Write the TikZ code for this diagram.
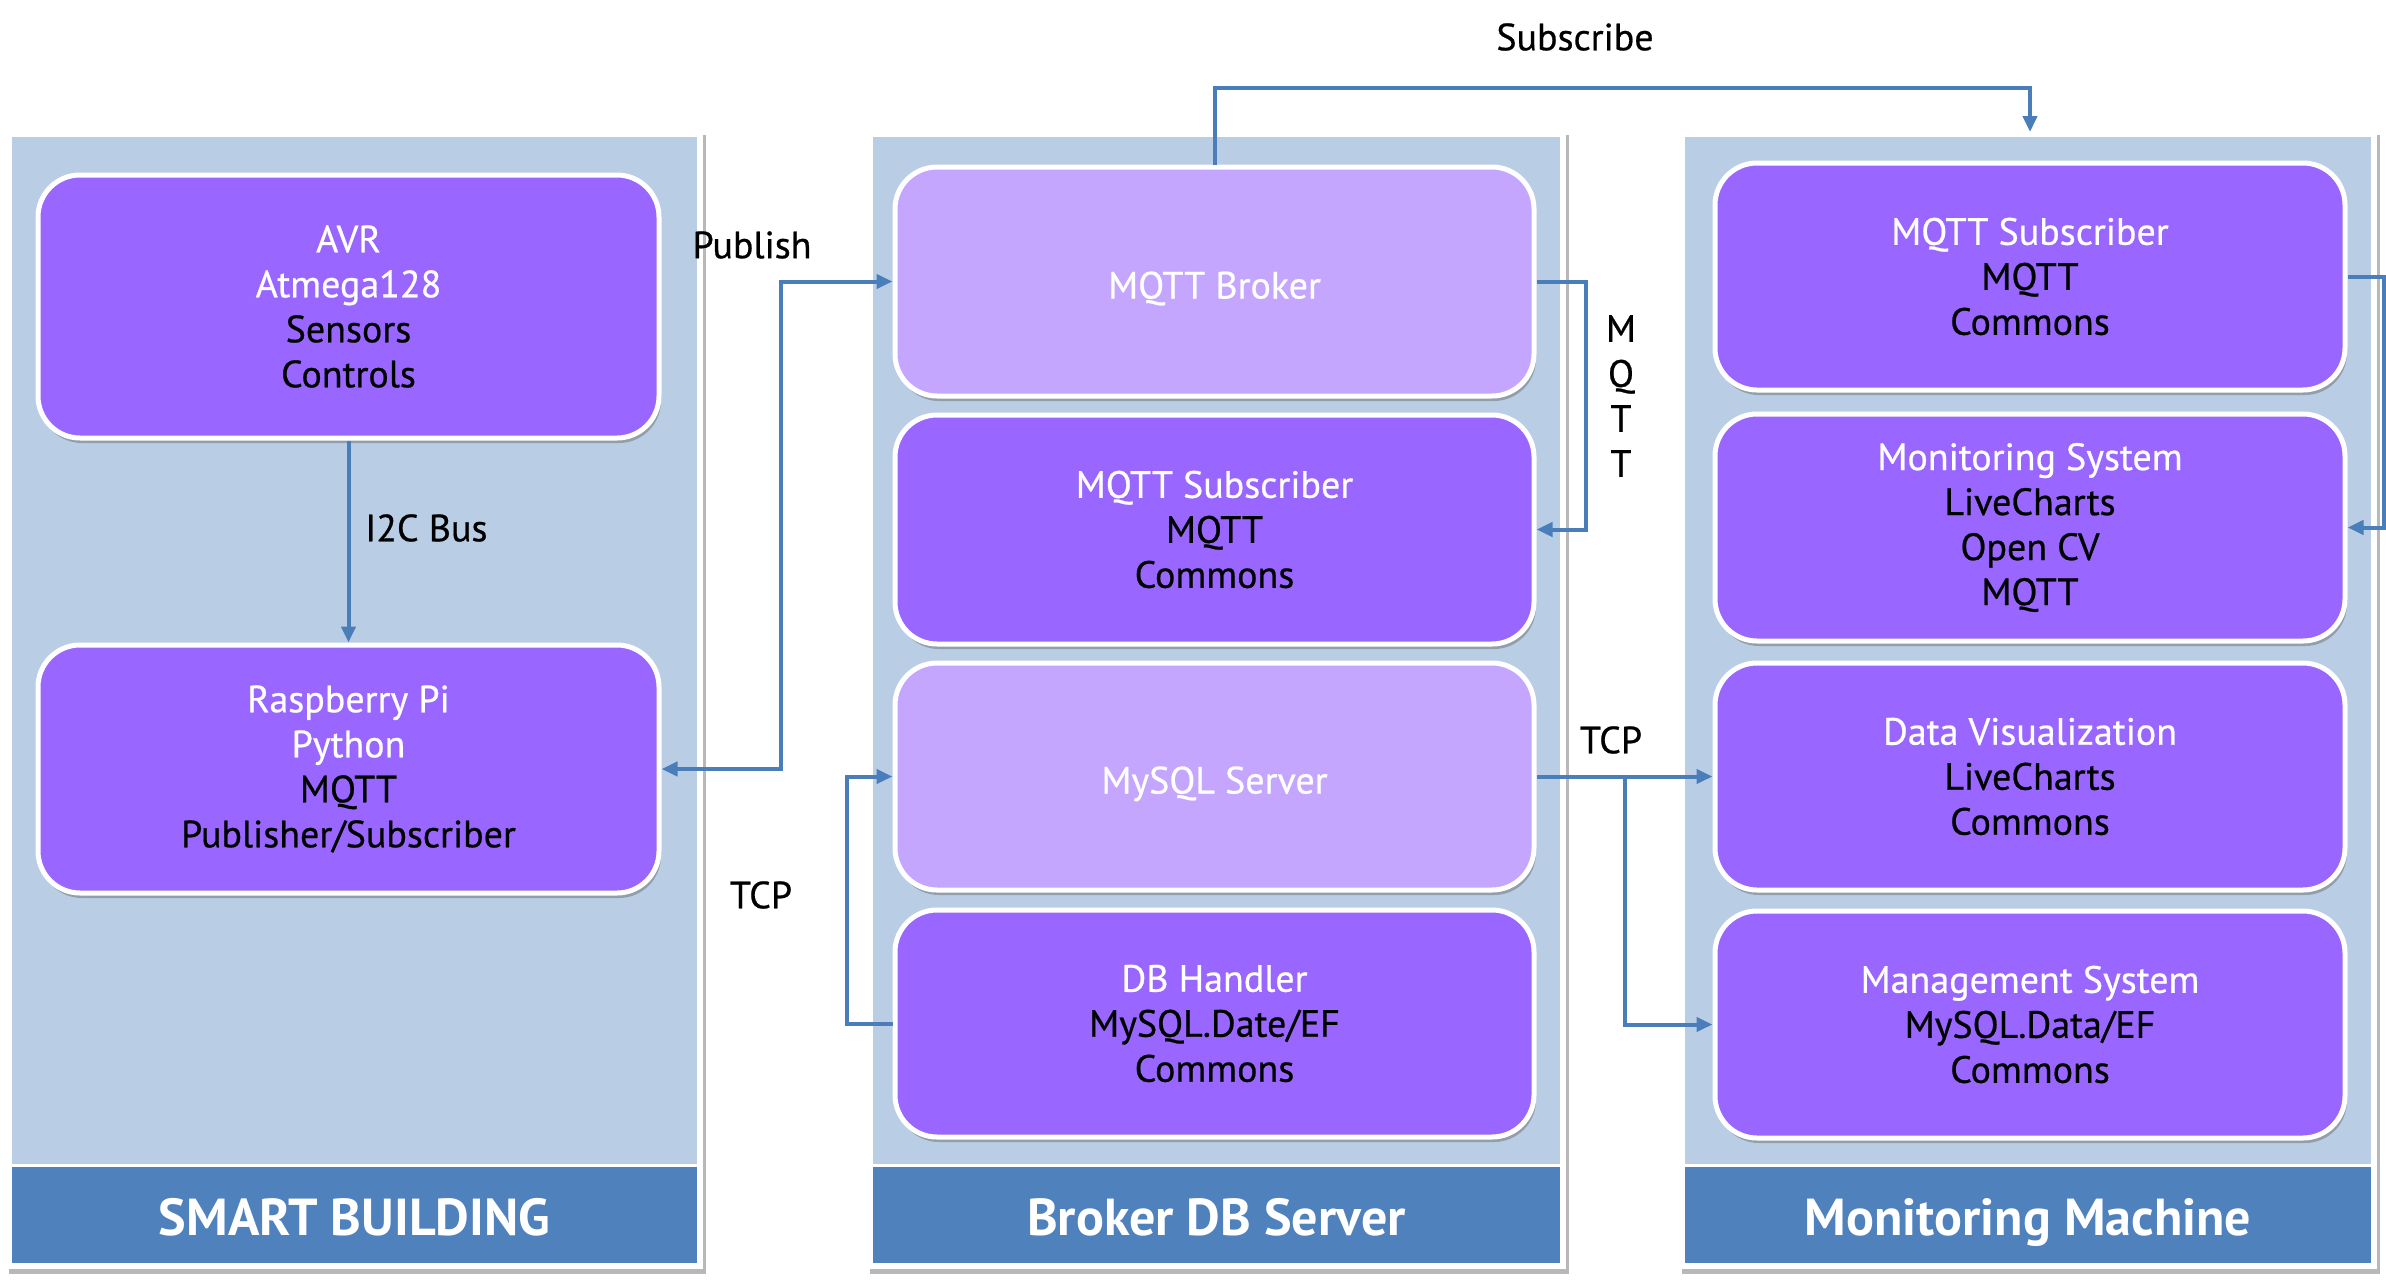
\documentclass[tikz,border=0pt]{standalone}
\usepackage{fontspec}
\setmainfont{PT Sans}
\newfontfamily\medfont{PT Sans}[FakeBold=0.6]
\usetikzlibrary{arrows.meta,shadows}
\definecolor{panelbg}{HTML}{B9CDE5}
\definecolor{bandbg}{HTML}{4F81BD}
\definecolor{purp}{HTML}{9966FF}
\definecolor{lpurp}{HTML}{C4A6FE}
\definecolor{connc}{HTML}{4A7EBB}
\newcommand\bxfont{\medfont\fontsize{38}{45}\selectfont}
\newcommand\bdfont{\fontsize{52}{60}\selectfont\bfseries}
\newcommand\lbfont{\medfont\fontsize{38}{45}\selectfont}
\begin{document}
\begin{tikzpicture}[x=1pt,y=-1pt,
  box/.style={draw=white, line width=5pt, rounded corners=42pt, fill=purp, text=black,
    align=center, font=\bxfont, inner sep=0pt,
    drop shadow={shadow xshift=2pt, shadow yshift=-5pt, fill=black!60, opacity=0.45}},
  lbox/.style={box, fill=lpurp, text=white, text height=34pt, text depth=0pt},
  band/.style={fill=bandbg, text=white, font=\bdfont, inner sep=0pt,
    text height=41pt, text depth=0pt},
  connl/.style={draw=connc, line width=4pt, -{Triangle[length=16pt,width=14pt]}},
  lbl/.style={font=\lbfont, text=black, inner sep=0pt}]
\useasboundingbox (0,0) rectangle (2386,1288);
\fill[white] (0,0) rectangle (2386,1288);
% panels
\foreach \l/\r in {12/697, 873/1560, 1685/2371} {
  \fill[black!28] (\l-3,135) rectangle (\r+9,1274);
  \fill[white] (\l-6,131) rectangle (\r+6,1269);
  \fill[panelbg] (\l,137) rectangle (\r,1164);
}
\node[band, minimum width=685pt, minimum height=96pt] (b1) at (354.5,1215) {SMART BUILDING};
\node[band, minimum width=687pt, minimum height=96pt] (b2) at (1216.5,1215) {Broker DB Server};
\node[band, minimum width=686pt, minimum height=96pt] (b3) at (2028,1215) {Monitoring Machine};
% boxes panel 1
\node[box, minimum width=621pt, minimum height=263pt] (avr) at (348.5,306.5)
  {{\color{white}AVR}\\{\color{white}Atmega128}\\Sensors\\Controls};
\node[box, minimum width=621pt, minimum height=248pt] (rpi) at (348.5,769)
  {{\color{white}Raspberry Pi}\\{\color{white}Python}\\MQTT\\Publisher/Subscriber};
% boxes panel 2
\node[lbox, minimum width=639pt, minimum height=229pt] (broker) at (1214.5,281.5) {MQTT Broker};
\node[box, minimum width=639pt, minimum height=229pt] (sub2) at (1214.5,529.5)
  {{\color{white}MQTT Subscriber}\\MQTT\\Commons};
\node[lbox, minimum width=639pt, minimum height=227pt] (mysql) at (1214.5,776.5) {MySQL Server};
\node[box, minimum width=639pt, minimum height=227pt] (dbh) at (1214.5,1023.5)
  {{\color{white}DB Handler}\\MySQL.Date/EF\\Commons};
% boxes panel 3
\node[box, minimum width=630pt, minimum height=227pt] (sub3) at (2030,276.5)
  {{\color{white}MQTT Subscriber}\\MQTT\\Commons};
\node[box, minimum width=630pt, minimum height=227pt] (monsys) at (2030,527.5)
  {{\color{white}Monitoring System}\\LiveCharts\\Open CV\\MQTT};
\node[box, minimum width=630pt, minimum height=227pt] (dataviz) at (2030,776.5)
  {{\color{white}Data Visualization}\\LiveCharts\\Commons};
\node[box, minimum width=630pt, minimum height=227pt] (mgmt) at (2030,1024.5)
  {{\color{white}Management System}\\MySQL.Data/EF\\Commons};
% connectors
\draw[connl] (avr.south) -- (rpi.north);
\draw[connl, {Triangle[length=16pt,width=14pt]}-{Triangle[length=16pt,width=14pt]}]
  (rpi.east) -- ++(119,0) |- (broker.west);
\coordinate (subcorner) at (2030,88);
\coordinate (p3top) at (2030,132);
\draw[connl] (broker.north) |- (subcorner) -- (p3top);
\draw[connl] (broker.east) -- ++(49,0) |- (sub2.east);
\draw[connl] (dbh.west) -- ++(-46,0) |- (mysql.west);
\draw[connl] (mysql.east) -- (dataviz.west);
\coordinate (junc) at (1625,776.5);
\draw[connl] (junc) |- (mgmt.west);
\draw[connl] (sub3.east) -- ++(36,0) |- (monsys.east);
% labels
\node[lbl, anchor=west] (li2c) at (365,528) {I2C Bus};
\node[lbl] (lpub) at (752,245) {Publish};
\node[lbl] (lsub) at (1575,37) {Subscribe};
\node[lbl, align=center] (lmqtt) at (1621,396) {M\\Q\\T\\T};
\node[lbl] (ltcp1) at (761,895) {TCP};
\node[lbl] (ltcp2) at (1611,740) {TCP};
\end{tikzpicture}
\end{document}
